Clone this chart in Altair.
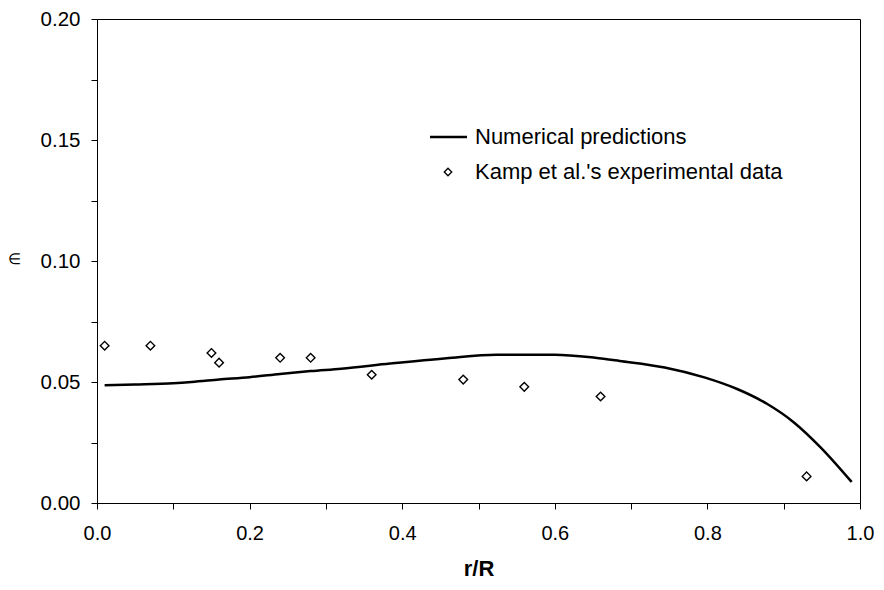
import altair as alt
import pandas as pd

# Numerical predictions (line)
line_x = [0.01, 0.05, 0.10, 0.124, 0.16, 0.20, 0.24, 0.28, 0.32, 0.384, 0.458,
          0.523, 0.60, 0.653, 0.685, 0.744, 0.796, 0.839, 0.878, 0.913, 0.948, 0.989]
line_y = [0.0487, 0.0490, 0.0495, 0.0500, 0.0510, 0.0520, 0.0533, 0.0545, 0.0555,
          0.0576, 0.0598, 0.0613, 0.0613, 0.0600, 0.0587, 0.0560, 0.0519, 0.0471,
          0.0410, 0.0334, 0.0231, 0.0087]

# Kamp et al.'s experimental data (diamonds)
exp_x = [0.01, 0.07, 0.15, 0.16, 0.24, 0.28, 0.36, 0.48, 0.56, 0.66, 0.93]
exp_y = [0.065, 0.065, 0.062, 0.058, 0.060, 0.060, 0.053, 0.051, 0.048, 0.044, 0.011]

legend_labels = ["Numerical predictions", "Kamp et al.'s experimental data"]

x_ticks = [round(i * 0.1, 1) for i in range(11)]
y_ticks = [round(i * 0.025, 3) for i in range(9)]

FONT = "Liberation Sans"

line_df = pd.DataFrame({"x": line_x, "y": line_y})
exp_df = pd.DataFrame({"x": exp_x, "y": exp_y})

x_enc = alt.X("x:Q", scale=alt.Scale(domain=[0, 1], nice=False, zero=False),
              axis=alt.Axis(values=x_ticks, format=".1f",
                            labelExpr="abs(round(datum.value*10)) % 2 == 0 ? format(datum.value, '.1f') : ''",
                            title="r/R", titleFontWeight="bold", titleFontSize=22,
                            titlePadding=15, grid=False, tickSize=6,
                            labelPadding=14, labelFontSize=20, labelFlush=False))
y_enc = alt.Y("y:Q", scale=alt.Scale(domain=[0, 0.2], nice=False, zero=False),
              axis=alt.Axis(values=y_ticks, format=".2f",
                            labelExpr="round(datum.value*1000) % 50 == 0 ? format(datum.value, '.2f') : ''",
                            title="∈", titleAngle=0, titleFontSize=15, titleFontWeight="normal",
                            titleX=-83, titleY=239, titleAlign="center", titleBaseline="middle",
                            grid=False, tickSize=6, labelPadding=11, labelFontSize=20.5,
                            labelFlush=False))

line = alt.Chart(line_df).mark_line(color="black", strokeWidth=2.5, interpolate="monotone").encode(
    x=x_enc, y=y_enc)

pts = alt.Chart(exp_df).mark_point(shape="diamond", size=75, color="black", fill="white",
                                   filled=False, strokeWidth=1.4, opacity=1).encode(
    x="x:Q", y="y:Q")

leg_df = pd.DataFrame({"label": legend_labels})

leg_line = alt.Chart(leg_df.iloc[[0]]).mark_rule(color="black", strokeWidth=2.5).encode(
    x=alt.value(333), x2=alt.value(370), y=alt.value(118))
leg_pt = alt.Chart(leg_df.iloc[[1]]).mark_point(shape="diamond", size=55, color="black",
                                                 fill="white", strokeWidth=1.3, opacity=1).encode(
    x=alt.value(351), y=alt.value(153))
leg_text1 = alt.Chart(leg_df.iloc[[0]]).mark_text(align="left", baseline="middle", fontSize=22,
                                                   font=FONT, color="black").encode(
    x=alt.value(378), y=alt.value(118), text="label:N")
leg_text2 = alt.Chart(leg_df.iloc[[1]]).mark_text(align="left", baseline="middle", fontSize=22,
                                                   font=FONT, color="black").encode(
    x=alt.value(378), y=alt.value(153), text="label:N")

chart = alt.layer(line, pts, leg_line, leg_pt, leg_text1, leg_text2).properties(
    width=763, height=484,
    padding={"left": 89, "top": 11, "right": 15, "bottom": 78},
    autosize=alt.AutoSizeParams(type="none"),
).configure_view(stroke="black", strokeWidth=1).configure_axis(
    labelFont=FONT, titleFont=FONT, labelColor="black", titleColor="black",
    domainColor="black", tickColor="black", domainWidth=1, tickWidth=1
)

chart.save("out.html", embed_options={"renderer": "svg", "actions": False})
